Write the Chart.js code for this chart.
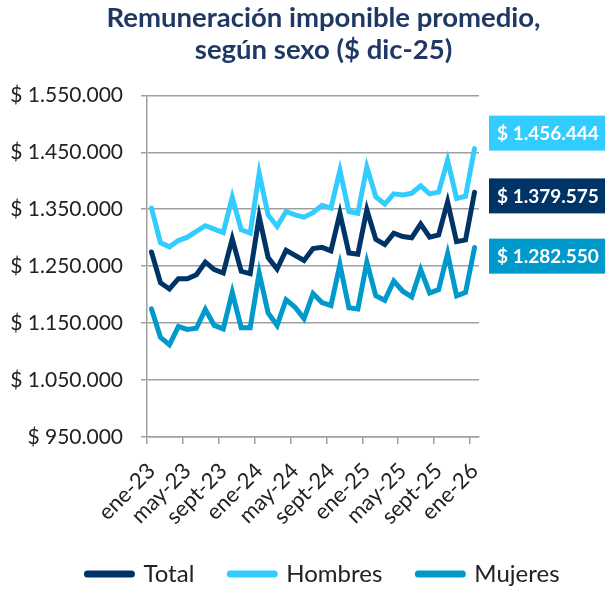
<!DOCTYPE html>
<html>
<head>
<meta charset="utf-8">
<script src="https://cdn.jsdelivr.net/npm/chart.js@4.4.1/dist/chart.umd.min.js"></script>
<style>
  html, body { margin: 0; padding: 0; background: #fff; }
  #wrap { width: 605px; height: 590px; position: relative; }
</style>
</head>
<body>
<div id="wrap"><canvas id="remChart"></canvas></div>
<script>
// meses (ene-23 a ene-26)
const meses = [
    'ene-23', 'feb-23', 'mar-23', 'abr-23', 'may-23', 'jun-23', 'jul-23', 'ago-23', 'sept-23', 'oct-23', 'nov-23', 'dic-23',
    'ene-24', 'feb-24', 'mar-24', 'abr-24', 'may-24', 'jun-24', 'jul-24', 'ago-24', 'sept-24', 'oct-24', 'nov-24', 'dic-24',
    'ene-25', 'feb-25', 'mar-25', 'abr-25', 'may-25', 'jun-25', 'jul-25', 'ago-25', 'sept-25', 'oct-25', 'nov-25', 'dic-25',
    'ene-26'
];

const total = [
    1275000, 1221000, 1210000, 1228000, 1228000, 1235000, 1257000, 1244000, 1238000, 1298000, 1241000, 1237000,
    1337000, 1265000, 1245000, 1278000, 1269000, 1260000, 1281000, 1283000, 1277000, 1343000, 1273000, 1271000,
    1349000, 1297000, 1288000, 1308000, 1302000, 1300000, 1324000, 1301000, 1305000, 1363000, 1293000, 1296000,
    1379575
];

const hombres = [
    1352000, 1291000, 1284000, 1295000, 1301000, 1311000, 1321000, 1315000, 1309000, 1371000, 1314000, 1308000,
    1413000, 1340000, 1320000, 1346000, 1340000, 1336000, 1344000, 1357000, 1352000, 1418000, 1346000, 1343000,
    1424000, 1372000, 1359000, 1377000, 1375000, 1378000, 1391000, 1377000, 1380000, 1436000, 1369000, 1373000,
    1456444
];

const mujeres = [
    1175000, 1125000, 1112000, 1144000, 1139000, 1141000, 1174000, 1146000, 1140000, 1204000, 1142000, 1142000,
    1238000, 1168000, 1146000, 1191000, 1178000, 1158000, 1202000, 1186000, 1181000, 1253000, 1177000, 1175000,
    1257000, 1198000, 1190000, 1224000, 1206000, 1196000, 1244000, 1203000, 1209000, 1272000, 1198000, 1204000,
    1282550
];

const yMin = 950000;
const yMax = 1550000;
const yPaso = 100000;

// colores
const azulOscuro = '#003366';
const celeste = '#33CCFF';
const azulMedio = '#0099CC';
const gris = '#a0a0a0';
const texto = '#222222';

// desplazamiento vertical de las cajas con el ultimo valor (px)
const desplazCaja = [3, -16, 8];

function formato(v) {
    return '$ ' + Math.round(v).toString().replace(/\B(?=(\d{3})+(?!\d))/g, '.');
}

// dibuja las cajas con el ultimo dato de cada serie
const cajasUltimo = {
    id: 'cajasUltimo',
    afterDatasetsDraw(chart) {
        const ctx = chart.ctx;
        const area = chart.chartArea;
        ctx.save();
        chart.data.datasets.forEach(function(ds, i) {
            const meta = chart.getDatasetMeta(i);
            const pt = meta.data[meta.data.length - 1];
            const yc = pt.y + desplazCaja[i];
            const x0 = area.right + 10;
            ctx.fillStyle = ds.borderColor;
            ctx.fillRect(x0, yc - 17, chart.width - x0, 35);
            ctx.fillStyle = '#ffffff';
            ctx.font = 'bold 19px Lato';
            ctx.textBaseline = 'middle';
            ctx.textAlign = 'left';
            ctx.fillText(formato(ds.data[ds.data.length - 1]), x0 + 8, yc + 1);
        });
        ctx.restore();
    }
};

const ctx = document.getElementById('remChart').getContext('2d');

const remChart = new Chart(ctx, {
    type: 'line',
    data: {
        labels: meses,
        datasets: [
            {
                label: 'Total',
                data: total,
                borderColor: azulOscuro,
                backgroundColor: azulOscuro,
                borderWidth: 5,
                borderCapStyle: 'round',
                pointRadius: 0,
                tension: 0
            },
            {
                label: 'Hombres',
                data: hombres,
                borderColor: celeste,
                backgroundColor: celeste,
                borderWidth: 5,
                borderCapStyle: 'round',
                pointRadius: 0,
                tension: 0
            },
            {
                label: 'Mujeres',
                data: mujeres,
                borderColor: azulMedio,
                backgroundColor: azulMedio,
                borderWidth: 5,
                borderCapStyle: 'round',
                pointRadius: 0,
                tension: 0
            }
        ]
    },
    options: {
        responsive: true,
        maintainAspectRatio: false,
        animation: false,
        layout: {
            // el margen derecho negativo corre el titulo y la leyenda hacia la derecha
            padding: { left: 0, right: -42, top: 0, bottom: -6 }
        },
        plugins: {
            title: {
                display: true,
                text: ['Remuneración imponible promedio,', 'según sexo ($ dic-25)'],
                color: '#1F3864',
                font: { family: 'Lato', size: 27.5, weight: 'bold', lineHeight: 1.17 },
                padding: { top: 2, bottom: 29 }
            },
            legend: {
                position: 'bottom',
                labels: {
                    usePointStyle: true,
                    pointStyleWidth: 44,
                    pointStyle: 'line',
                    padding: 36,
                    color: texto,
                    font: { family: 'Lato', size: 24 },
                    generateLabels: function(chart) {
                        const items = Chart.defaults.plugins.legend.labels.generateLabels(chart);
                        items.forEach(function(it) { it.lineWidth = 7; it.lineCap = 'round'; });
                        return items;
                    }
                }
            },
            tooltip: { enabled: false }
        },
        scales: {
            x: {
                offset: true,
                grid: {
                    offset: true,
                    drawOnChartArea: false,
                    tickLength: 7,
                    lineWidth: 1.5,
                    tickColor: function(c) { return c.index % 4 === 0 ? gris : 'rgba(0,0,0,0)'; }
                },
                border: { color: gris, width: 1.5 },
                ticks: {
                    autoSkip: false,
                    maxRotation: 45,
                    minRotation: 45,
                    padding: 14,
                    color: texto,
                    font: { family: 'Lato', size: 22 },
                    callback: function(v, i) { return i % 4 === 0 ? this.getLabelForValue(v) : ''; }
                },
                afterFit: function(s) { s.height = 89; }
            },
            y: {
                min: yMin,
                max: yMax,
                ticks: {
                    stepSize: yPaso,
                    padding: 18,
                    color: texto,
                    font: { family: 'Lato', size: 21 },
                    callback: function(v) { return formato(v); }
                },
                grid: { color: gris, lineWidth: 1.5, tickLength: 6, tickColor: gris },
                border: { color: gris, width: 1.5 },
                afterFit: function(s) { s.width = 147; }
            },
            yDer: {
                position: 'right',
                min: yMin,
                max: yMax,
                grid: { display: false, drawTicks: false },
                border: { display: false },
                ticks: { display: false },
                afterFit: function(s) { s.width = 168; }
            }
        }
    },
    plugins: [cajasUltimo]
});
</script>
</body>
</html>
